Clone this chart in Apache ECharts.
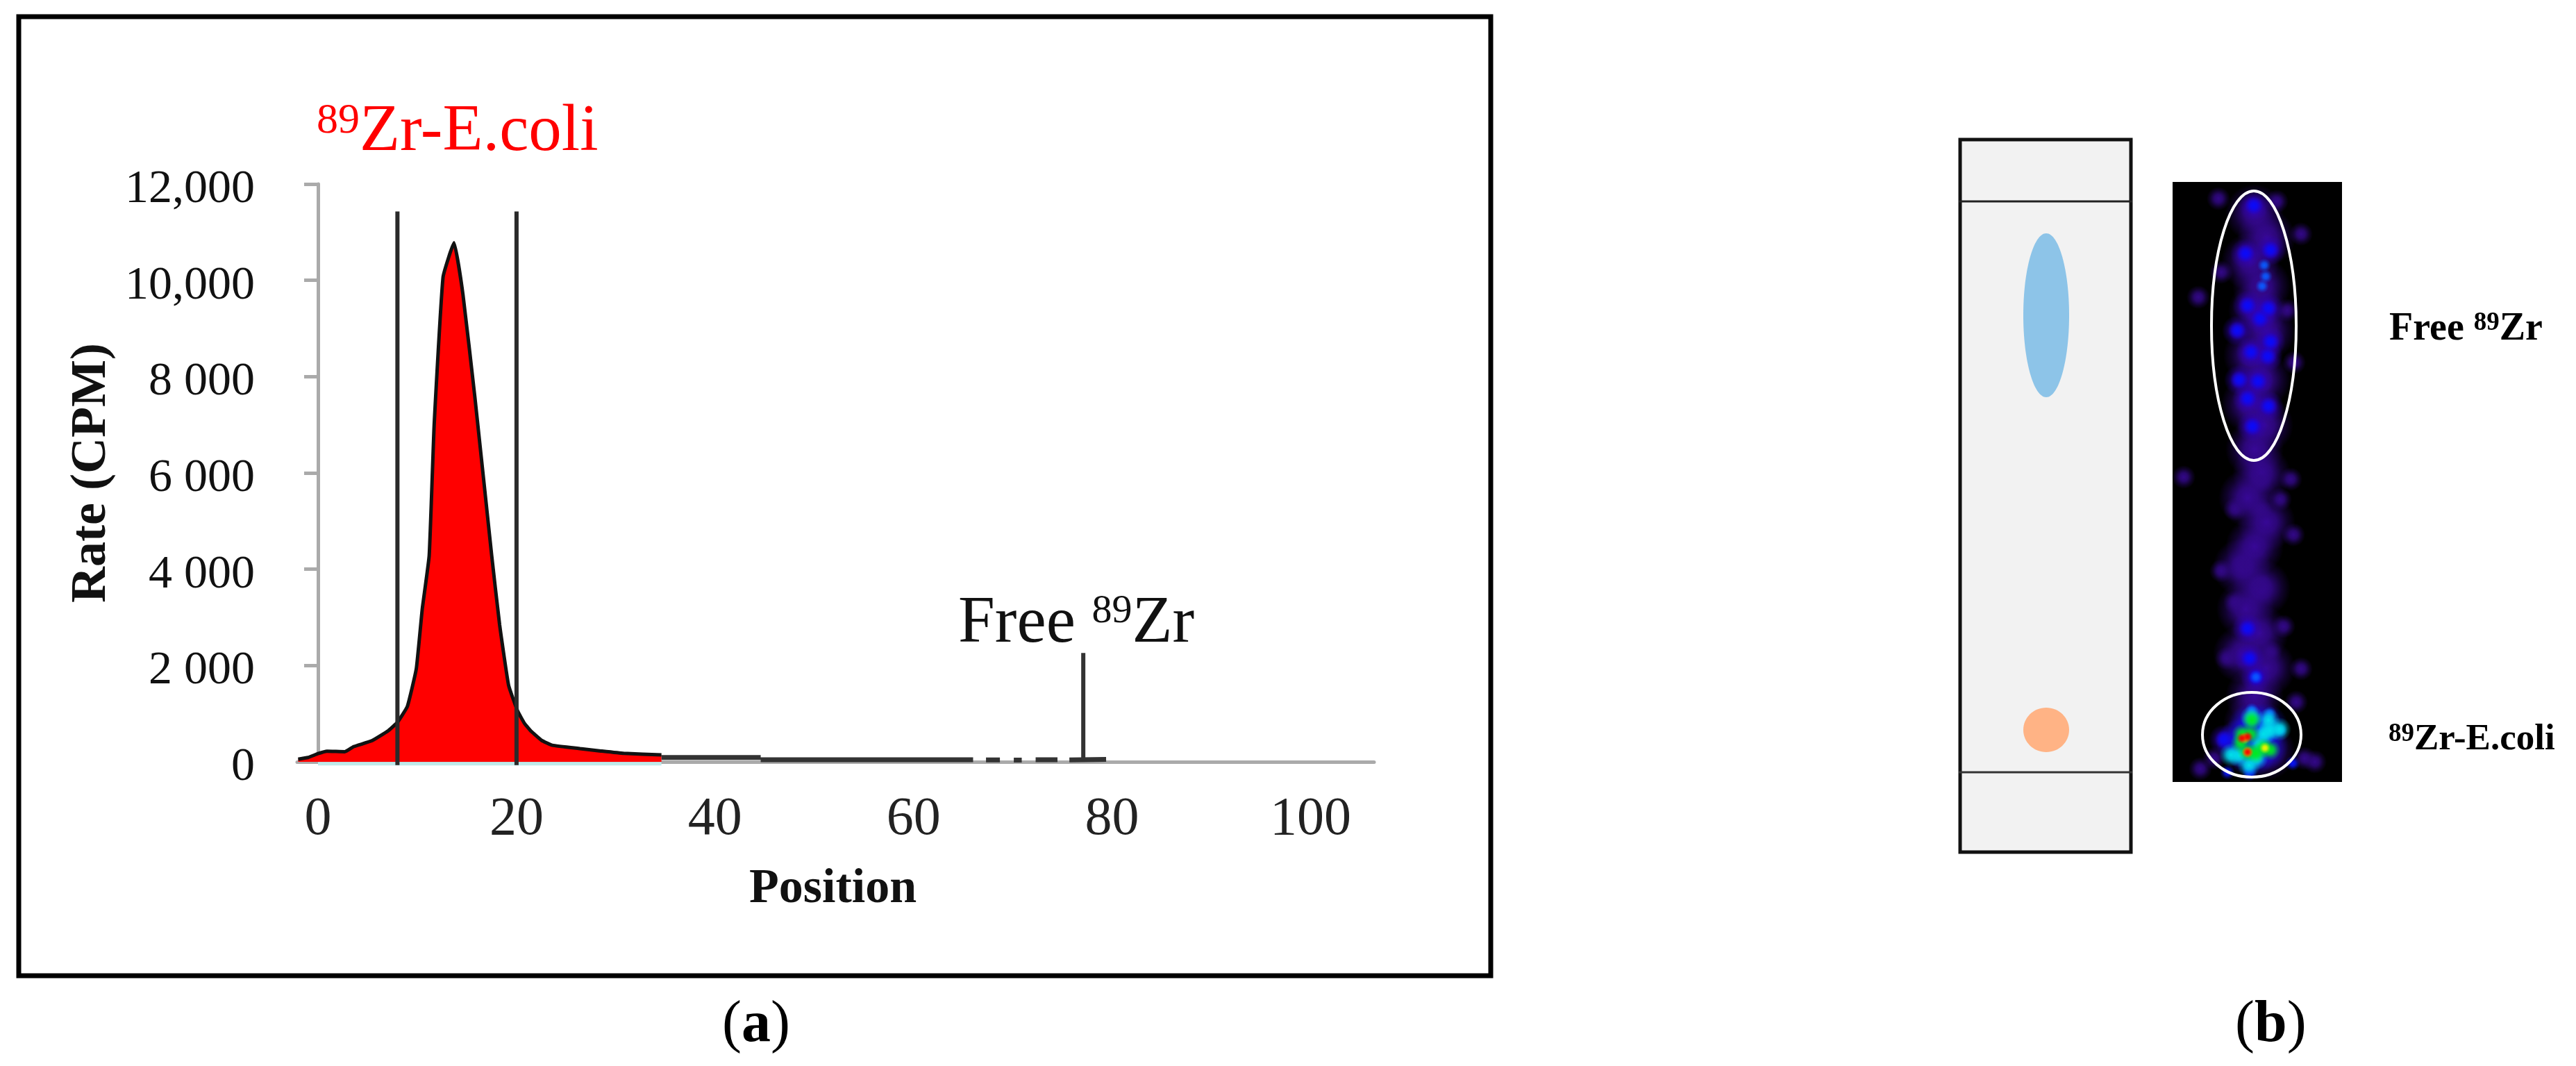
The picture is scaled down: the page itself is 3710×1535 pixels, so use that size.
<!DOCTYPE html>
<html>
<head>
<meta charset="utf-8">
<style>html,body{margin:0;padding:0;background:#fff}#main{width:3710px;height:1535px}</style>
<script src="https://cdn.jsdelivr.net/npm/echarts@6/dist/echarts.min.js"></script>
</head>
<body>
<div id="main"></div>
<script>
// panel (a): radio-TLC trace
var peakTrace = [[-2,55],[-1,90],[0,170],[0.9,220],[2.7,210],[3.6,317],[5.4,435],[7.1,650],[8,820],[9,1150],[9.9,1930],[10.5,3170],[11.2,4280],[11.7,6990],[12.6,10070],[13.7,10780],[14.6,9710],[15.8,7580],[17.5,4280],[18.3,2840],[19.2,1590],[20.1,1060],[20.8,800],[21.5,630],[22.5,450],[23.6,345],[26.4,275],[28.5,225],[30.8,175],[34.6,145]];
var tailTrace = [[34.6,90],[44.6,90],[null,null],[44.6,45],[66,45],[null,null],[67.3,40],[68.7,40],[null,null],[70.1,35],[70.9,35],[null,null],[72.3,45],[74.5,45],[null,null],[75.7,40],[79.4,50]];
var gateLeft = [[8,-70],[8,11430]];
var gateRight = [[20,-70],[20,11430]];
var freePeak = [[77.1,20],[77.1,2260]];
var baseTint = [[0,-40],[34.6,-40]];
var yTicks = [0,2000,4000,6000,8000,10000,12000];
var yTickLabels = ['0','2 000','4 000','6 000','8 000','10,000','12,000'];
var xTicks = [0,20,40,60,80,100];

// panel (b): autoradiograph hot spots, [across, along] in image pixels
var hazeSpots = [[118,45],[135,80],[112,115],[128,150],[122,185],[135,215],[115,250],[128,285],[112,320],[132,350],[118,385],[128,420],[108,455],[135,490],[118,525],[100,555],[128,585],[105,615],[125,650],[100,680],[135,700],[118,740],[115,780],[105,810],[135,820]];
var dimSpots = [[66,24],[150,28],[185,75],[37,166],[70,130],[165,185],[175,260],[16,425],[170,428],[126,430],[155,457],[90,471],[126,471],[174,508],[102,552],[126,580],[90,605],[141,677],[78,686],[185,701],[178,749],[60,830],[190,830],[40,845],[205,835],[160,640],[70,560]];
var blueSpots = [[117,34],[105,103],[141,98],[108,178],[138,182],[126,197],[93,214],[113,245],[137,251],[141,230],[96,285],[123,287],[108,312],[138,323],[115,352],[108,643],[111,686],[120,713],[74,803]];
var edgeSpots = [[173,837],[79,850],[111,846],[111,852]];
var poolSpots = [[114,785],[132,785],[98,808],[132,812],[114,822]];
var azureSpots = [[132,120],[134,136],[129,150],[120,713],[114,760],[140,765],[155,790]];
var cyanSpots = [[114,771],[138,775],[154,788],[84,825],[96,826],[121,830],[131,795],[110,840],[140,790],[125,810]];
var greenSpots = [[114,775],[100,795],[112,795],[98,808],[108,821],[120,823],[131,815],[141,818]];
var yellowSpots = [[104,801],[108,821],[133,815]];
var redSpots = [[100,801],[108,799],[108,821]];

var serif = '"Liberation Serif"';

function spotSeries(data, size, r, g, b) {
  var rgb = r + ',' + g + ',' + b;
  return {
    type: 'scatter', xAxisIndex: 1, yAxisIndex: 1, data: data, symbolSize: size, silent: true,
    itemStyle: { opacity: 1, color: { type: 'radial', x: 0.5, y: 0.5, r: 0.5, colorStops: [
      { offset: 0, color: 'rgba(' + rgb + ',1)' }, { offset: 0.35, color: 'rgba(' + rgb + ',0.8)' },
      { offset: 0.7, color: 'rgba(' + rgb + ',0.3)' }, { offset: 1, color: 'rgba(' + rgb + ',0)' }] } }
  };
}

function traceLine(data, color, width) {
  return { type: 'line', data: data, showSymbol: false, clip: false, z: 4, silent: true, lineStyle: { color: color, width: width, cap: 'butt' } };
}

var myChart = echarts.init(document.getElementById('main'));
myChart.setOption({
  animation: false,
  backgroundColor: '#fff',
  grid: [
    { left: 428, top: 265, width: 1551, height: 832 },
    { left: 3129, top: 262, width: 244, height: 864, show: true, backgroundColor: '#000', borderWidth: 0 }
  ],
  xAxis: [
    {
      type: 'value', min: -2.1, max: 106.4, splitLine: { show: false },
      axisLine: { onZero: false, lineStyle: { color: '#aaa', width: 5 } },
      axisTick: { show: false },
      axisLabel: { customValues: xTicks, margin: 45, fontFamily: serif, fontSize: 78, color: '#222', hideOverlap: false },
      name: 'Position', nameLocation: 'middle', nameGap: 149,
      nameTextStyle: { fontFamily: serif, fontWeight: 'bold', fontSize: 70, color: '#111', padding: [0, 0, 0, -8] }
    },
    { gridIndex: 1, type: 'value', min: 0, max: 244, show: false }
  ],
  yAxis: [
    {
      type: 'value', min: 0, max: 12000, interval: 2000, splitLine: { show: false },
      axisLine: { show: true, lineStyle: { color: '#aaa', width: 5 } },
      axisTick: { show: true, length: 20, lineStyle: { color: '#aaa', width: 5 } },
      axisLabel: {
        margin: 61, fontFamily: serif, fontSize: 68, color: '#111', verticalAlign: 'top', lineHeight: 16,
        formatter: function (v) { return yTickLabels[yTicks.indexOf(v)]; }
      },
      name: 'Rate (CPM)', nameLocation: 'middle', nameGap: 260, nameRotate: 90,
      nameTextStyle: { fontFamily: serif, fontWeight: 'bold', fontSize: 72, color: '#111' }
    },
    { gridIndex: 1, type: 'value', min: 0, max: 864, inverse: true, show: false }
  ],
  series: [
    traceLine(baseTint, '#bfe9ea', 5),
    {
      type: 'line', data: peakTrace, showSymbol: false, z: 3, silent: true, smooth: 0.12,
      lineStyle: { color: '#111', width: 5 },
      areaStyle: { color: '#ff0000', opacity: 1 }
    },
    traceLine(tailTrace, '#333', 7),
    traceLine(gateLeft, '#2a2a2a', 6),
    traceLine(gateRight, '#2a2a2a', 6),
    traceLine(freePeak, '#333', 6),
    spotSeries(hazeSpots, 84, 55, 8, 150),
    spotSeries(dimSpots, 34, 50, 8, 135),
    spotSeries(blueSpots, 44, 45, 0, 190),
    spotSeries(blueSpots, 26, 10, 10, 250),
    spotSeries(poolSpots, 70, 15, 15, 235),
    spotSeries(edgeSpots, 22, 10, 20, 250),
    spotSeries(azureSpots, 20, 10, 90, 255),
    spotSeries(cyanSpots, 34, 0, 225, 235),
    spotSeries(greenSpots, 30, 0, 235, 30),
    spotSeries(yellowSpots, 17, 250, 240, 0),
    spotSeries(redSpots, 17, 245, 0, 0)
  ],
  graphic: [
    // outer frame of (a)
    { type: 'rect', z: 1, shape: { x: 27, y: 24, width: 2120, height: 1381 }, style: { fill: null, stroke: '#000', lineWidth: 7 } },
    // TLC strip of (b)
    { type: 'rect', z: 1, shape: { x: 2823, y: 201, width: 246, height: 1026 }, style: { fill: '#f2f2f2', stroke: '#111', lineWidth: 5 } },
    { type: 'line', z: 1, shape: { x1: 2821, y1: 290, x2: 3071, y2: 290 }, style: { stroke: '#222', lineWidth: 3 } },
    { type: 'line', z: 1, shape: { x1: 2821, y1: 1112, x2: 3071, y2: 1112 }, style: { stroke: '#333', lineWidth: 3 } },
    { type: 'ellipse', z: 1, shape: { cx: 2947, cy: 454, rx: 33, ry: 118 }, style: { fill: '#8dc4e8' } },
    { type: 'ellipse', z: 1, shape: { cx: 2947, cy: 1051, rx: 33, ry: 32 }, style: { fill: '#ffb385' } },
    // rings over the image
    { type: 'ellipse', z: 20, shape: { cx: 3246, cy: 469, rx: 61, ry: 194 }, style: { fill: null, stroke: '#fff', lineWidth: 4 } },
    { type: 'ellipse', z: 20, shape: { cx: 3243, cy: 1058, rx: 71, ry: 61 }, style: { fill: null, stroke: '#fff', lineWidth: 4 } },
    // texts
    { type: 'text', z: 20, x: 456, y: 144, style: { text: '{s|89}{m|Zr-E.coli}', fill: '#ff0000', rich: {
      s: { fontFamily: serif, fontSize: 62, verticalAlign: 'top', fill: '#ff0000' },
      m: { fontFamily: serif, fontSize: 95, fill: '#ff0000' } } } },
    { type: 'text', z: 20, x: 1380, y: 852, style: { text: '{m|Free }{s|89}{m|Zr}', fill: '#111', rich: {
      s: { fontFamily: serif, fontSize: 58, verticalAlign: 'top', fill: '#111' },
      m: { fontFamily: serif, fontSize: 95, fill: '#111' } } } },
    { type: 'text', z: 20, x: 3441, y: 447, style: { text: '{m|Free }{s|89}{m|Zr}', fill: '#000', rich: {
      s: { fontFamily: serif, fontWeight: 'bold', fontSize: 37, verticalAlign: 'top', fill: '#000' },
      m: { fontFamily: serif, fontWeight: 'bold', fontSize: 56, fill: '#000' } } } },
    { type: 'text', z: 20, x: 3440, y: 1039, style: { text: '{s|89}{m|Zr-E.coli}', fill: '#000', rich: {
      s: { fontFamily: serif, fontWeight: 'bold', fontSize: 37, verticalAlign: 'top', fill: '#000' },
      m: { fontFamily: serif, fontWeight: 'bold', fontSize: 53, fill: '#000' } } } },
    { type: 'text', z: 20, x: 1040, y: 1435, style: { text: '{m|(}{b|a}{m|)}', fill: '#000', rich: {
      m: { fontFamily: serif, fontSize: 84, fill: '#000' },
      b: { fontFamily: serif, fontWeight: 'bold', fontSize: 84, fill: '#000' } } } },
    { type: 'text', z: 20, x: 3219, y: 1435, style: { text: '{m|(}{b|b}{m|)}', fill: '#000', rich: {
      m: { fontFamily: serif, fontSize: 84, fill: '#000' },
      b: { fontFamily: serif, fontWeight: 'bold', fontSize: 84, fill: '#000' } } } }
  ]
});
</script>
</body>
</html>
